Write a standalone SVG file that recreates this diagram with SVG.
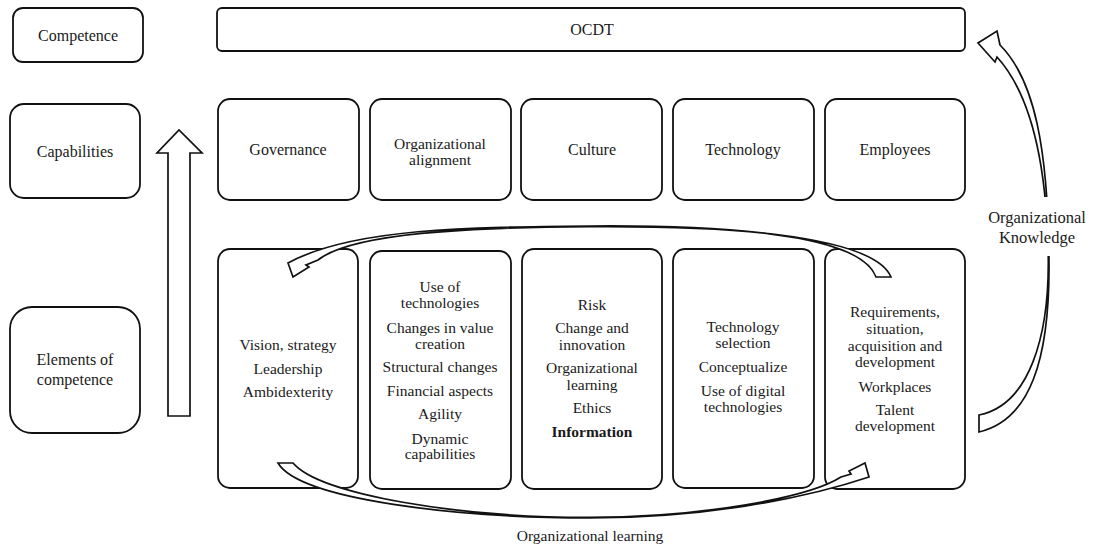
<svg xmlns="http://www.w3.org/2000/svg" width="1099" height="550" viewBox="0 0 1099 550">
  <style>
    .box { fill: #fff; stroke: #111; stroke-width: 1.8; }
    .lbl { font-family: "Liberation Serif", "Times New Roman", serif; font-size: 16px; fill: #1a1a1a; text-anchor: middle; }
    .txt { font-family: "Liberation Serif", "Times New Roman", serif; font-size: 15.5px; fill: #1a1a1a; text-anchor: middle; }
    .bold { font-weight: bold; }
    .arrow { fill: #fff; stroke: #111; stroke-width: 1.7; stroke-linejoin: miter; }
  </style>
  <rect width="1099" height="550" fill="#fff"/>

  <!-- level labels -->
  <g id="level-competence">
    <rect class="box" x="13" y="8" width="130" height="54" rx="10"/>
    <text class="lbl" x="78" y="41">Competence</text>
  </g>
  <g id="level-capabilities">
    <rect class="box" x="10" y="104" width="130" height="94" rx="14"/>
    <text class="lbl" x="75" y="157">Capabilities</text>
  </g>
  <g id="level-elements">
    <rect class="box" x="10" y="307" width="130" height="126" rx="22"/>
    <text class="lbl" x="75" y="365">Elements of</text>
    <text class="lbl" x="75" y="385">competence</text>
  </g>

  <!-- competence -->
  <g id="ocdt">
    <rect class="box" x="217" y="8" width="748" height="43" rx="5"/>
    <text class="lbl" x="592" y="35">OCDT</text>
  </g>

  <!-- capabilities -->
  <g id="cap-governance">
    <rect class="box" x="218" y="99" width="141" height="101" rx="12"/>
    <text class="lbl" x="288" y="155">Governance</text>
  </g>
  <g id="cap-alignment">
    <rect class="box" x="370" y="99" width="141" height="101" rx="12"/>
    <text class="txt" x="440" y="149">Organizational</text>
    <text class="txt" x="440" y="165">alignment</text>
  </g>
  <g id="cap-culture">
    <rect class="box" x="521" y="99" width="141" height="101" rx="12"/>
    <text class="lbl" x="592" y="155">Culture</text>
  </g>
  <g id="cap-technology">
    <rect class="box" x="673" y="99" width="141" height="101" rx="12"/>
    <text class="lbl" x="743" y="155">Technology</text>
  </g>
  <g id="cap-employees">
    <rect class="box" x="825" y="99" width="140" height="101" rx="12"/>
    <text class="lbl" x="895" y="155">Employees</text>
  </g>

  <!-- elements of competence -->
  <g id="el-governance">
    <rect class="box" x="218" y="249" width="140" height="239" rx="12"/>
    <text class="txt" x="288" y="350">Vision, strategy</text>
    <text class="txt" x="288" y="374">Leadership</text>
    <text class="txt" x="288" y="397">Ambidexterity</text>
  </g>
  <g id="el-alignment">
    <rect class="box" x="370" y="251" width="141" height="238" rx="12"/>
    <text class="txt" x="440" y="292">Use of</text>
    <text class="txt" x="440" y="308">technologies</text>
    <text class="txt" x="440" y="333">Changes in value</text>
    <text class="txt" x="440" y="349">creation</text>
    <text class="txt" x="440" y="372">Structural changes</text>
    <text class="txt" x="440" y="396">Financial aspects</text>
    <text class="txt" x="440" y="419">Agility</text>
    <text class="txt" x="440" y="444">Dynamic</text>
    <text class="txt" x="440" y="459">capabilities</text>
  </g>
  <g id="el-culture">
    <rect class="box" x="522" y="249" width="140" height="240" rx="12"/>
    <text class="txt" x="592" y="310">Risk</text>
    <text class="txt" x="592" y="333">Change and</text>
    <text class="txt" x="592" y="350">innovation</text>
    <text class="txt" x="592" y="373">Organizational</text>
    <text class="txt" x="592" y="390">learning</text>
    <text class="txt" x="592" y="413">Ethics</text>
    <text class="txt bold" x="592" y="437">Information</text>
  </g>
  <g id="el-technology">
    <rect class="box" x="673" y="249" width="141" height="239" rx="12"/>
    <text class="txt" x="743" y="332">Technology</text>
    <text class="txt" x="743" y="348">selection</text>
    <text class="txt" x="743" y="372">Conceptualize</text>
    <text class="txt" x="743" y="396">Use of digital</text>
    <text class="txt" x="743" y="412">technologies</text>
  </g>
  <g id="el-employees">
    <rect class="box" x="825" y="249" width="140" height="240" rx="12"/>
    <text class="txt" x="895" y="317">Requirements,</text>
    <text class="txt" x="895" y="334">situation,</text>
    <text class="txt" x="895" y="351">acquisition and</text>
    <text class="txt" x="895" y="367">development</text>
    <text class="txt" x="895" y="392">Workplaces</text>
    <text class="txt" x="895" y="415">Talent</text>
    <text class="txt" x="895" y="431">development</text>
  </g>

  <!-- block arrows -->
  <g id="connectors">
    <!-- upward arrow: elements to capabilities -->
    <polygon class="arrow" points="168,416 168,153 157,153 179,130 202,153 190,153 190,416"/>

    <!-- learning loop, upper arc (right to left) -->
    <path class="arrow" d="M891,277 C872,232 700,225 590,226 C470,227 352,228 288,263 L293,277 L309,267 L306,265 L318,260 C352,233 470,227.3 590,226.6 C700,226 858,229 876,277 Z"/>

    <!-- learning loop, lower arc (left to right) -->
    <path class="arrow" d="M278,463 C300,500 460,518 590,518 C700,518 800,500 869,477 L865,463 L849,471 L851,474 L841,477 C808,498 700,517.3 590,517.4 C460,517.6 320,495 293,463 Z"/>

    <!-- knowledge arc up to OCDT -->
    <path class="arrow" d="M979,432 C1030,420 1050,360 1049,260 C1048,150 1035,80 1000,45 L997,31 L978,43 L995,62 L997,57 C1027,90 1047,150 1048.3,260 C1048.8,335 1030,405 979,415 Z"/>
  </g>

  <!-- arc labels -->
  <g id="label-knowledge">
    <rect x="983" y="197" width="110" height="59" fill="#fff"/>
    <text class="lbl" x="1037" y="223" style="font-size:16.5px">Organizational</text>
    <text class="lbl" x="1037" y="243" style="font-size:16.5px">Knowledge</text>
  </g>
  <g id="label-learning">
    <text class="txt" x="590" y="541">Organizational learning</text>
  </g>
</svg>
